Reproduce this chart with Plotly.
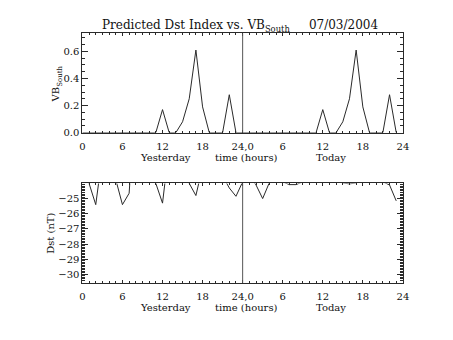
import plotly.graph_objects as go

# ---- data ----
hours = list(range(48))
vb_south = [0, 0, 0, 0, 0, 0, 0, 0, 0, 0, 0, 0, 0.17, 0, 0, 0.08, 0.25, 0.61, 0.19, 0, 0, 0, 0.28, 0,
            0, 0, 0, 0, 0, 0, 0, 0, 0, 0, 0, 0, 0.17, 0, 0, 0.08, 0.25, 0.61, 0.19, 0, 0, 0, 0.28, 0]
dst = [-23.0, -24.0, -25.4, -22.1, -21.5, -23.75, -25.4, -24.65, -18.0, -20.0, -22.0, -24.0,
       -25.3, -21.6, -21.0, -22.5, -24.0, -24.8, -22.1, -21.0, -22.0, -23.5, -24.3, -24.85,
       -23.9, -23.5, -24.1, -25.0, -23.95, -23.5, -23.9, -24.08, -24.08, -23.9, -23.5, -23.0,
       -23.0, -23.5, -23.8, -23.97, -24.03, -23.97, -23.5, -23.0, -23.5, -23.9, -24.1, -25.15]
x_tickvals = [0, 6, 12, 18, 24, 30, 36, 42, 48]
x_ticktext = ["0", "6", "12", "18", "24,0", "6", "12", "18", "24"]
vb_tickvals = [0.0, 0.2, 0.4, 0.6]
dst_tickvals = [-30, -29, -28, -27, -26, -25]
divider_hour = 24
title_text = "Predicted Dst Index vs. VB<sub>South</sub>&nbsp;&nbsp;&nbsp;&nbsp;&nbsp;07/03/2004"
xlabels = [("Yesterday", 12.5), ("time (hours)", 24.6), ("Today", 37.3)]

W, H = 453, 340
FONT = "DejaVu Serif"
LC = "#2a2a2a"

def px_x(p):
    return p / W

def px_y(p):
    return 1 - p / H

fig = go.Figure()
fig.add_trace(go.Scatter(x=hours, y=vb_south, mode="lines", line=dict(color=LC, width=1),
                         xaxis="x", yaxis="y", showlegend=False))
fig.add_trace(go.Scatter(x=hours, y=dst, mode="lines", line=dict(color=LC, width=1),
                         xaxis="x2", yaxis="y2", showlegend=False))

xdom = [px_x(81), px_x(408)]
common_x = dict(range=[0, 48], tickvals=x_tickvals, ticktext=x_ticktext, ticks="inside", ticklen=3,
                tickcolor=LC, showline=True, linecolor=LC, linewidth=1, mirror="allticks",
                showgrid=False, zeroline=False, domain=xdom, ticklabelstandoff=4,
                tickfont=dict(family=FONT, size=10, color="#111"),
                minor=dict(dtick=1, ticks="inside", ticklen=2, tickcolor=LC, showgrid=False))

fig.update_layout(
    width=W, height=H, margin=dict(l=0, r=0, t=0, b=0),
    paper_bgcolor="white", plot_bgcolor="white",
    xaxis=dict(**common_x, anchor="y"),
    xaxis2=dict(**common_x, anchor="y2"),
    yaxis=dict(range=[0, 0.733], domain=[px_y(135), px_y(34)], tickvals=vb_tickvals,
               tickformat=".1f", ticks="inside", ticklen=6, tickcolor=LC, showline=True,
               linecolor=LC, linewidth=1, mirror="allticks", showgrid=False, zeroline=False,
               tickfont=dict(family=FONT, size=10, color="#111"),
               minor=dict(dtick=0.05, ticks="inside", ticklen=3, tickcolor=LC, showgrid=False),
               anchor="x"),
    yaxis2=dict(range=[-30.56, -24.0], domain=[px_y(288), px_y(186.7)], tickvals=dst_tickvals,
                ticks="inside", ticklen=6, tickcolor=LC, showline=True,
                linecolor=LC, linewidth=1, mirror="allticks", showgrid=False, zeroline=False,
                tickfont=dict(family=FONT, size=10, color="#111"),
                minor=dict(dtick=0.1, ticks="inside", ticklen=3, tickcolor=LC, showgrid=False),
                anchor="x2"),
)

for xr, yr in (("x", "y"), ("x2", "y2")):
    fig.add_shape(type="line", xref=xr, yref=yr + " domain", x0=divider_hour, x1=divider_hour,
                  y0=0, y1=1, line=dict(color="#555555", width=1))

anns = []
anns.append(dict(text=title_text, x=px_x(242), y=px_y(26), xref="paper", yref="paper",
                 xanchor="center", yanchor="middle", showarrow=False,
                 font=dict(family=FONT, size=12, color="#111")))
for lab, hx in xlabels:
    anns.append(dict(text=lab, x=hx, xref="x", y=px_y(160), yref="paper", xanchor="center",
                     yanchor="middle", showarrow=False, font=dict(family=FONT, size=10, color="#111")))
    anns.append(dict(text=lab, x=hx, xref="x2", y=px_y(313), yref="paper", xanchor="center",
                     yanchor="middle", showarrow=False, font=dict(family=FONT, size=10, color="#111")))
anns.append(dict(text="VB<sub>South</sub>", x=px_x(55), y=px_y(85), xref="paper", yref="paper",
                 xanchor="center", yanchor="middle", textangle=-90, showarrow=False,
                 font=dict(family=FONT, size=10, color="#111")))
anns.append(dict(text="Dst (nT)", x=px_x(49), y=px_y(238), xref="paper", yref="paper",
                 xanchor="center", yanchor="middle", textangle=-90, showarrow=False,
                 font=dict(family=FONT, size=10, color="#111")))
fig.update_layout(annotations=anns)

fig.write_html("out.html")
